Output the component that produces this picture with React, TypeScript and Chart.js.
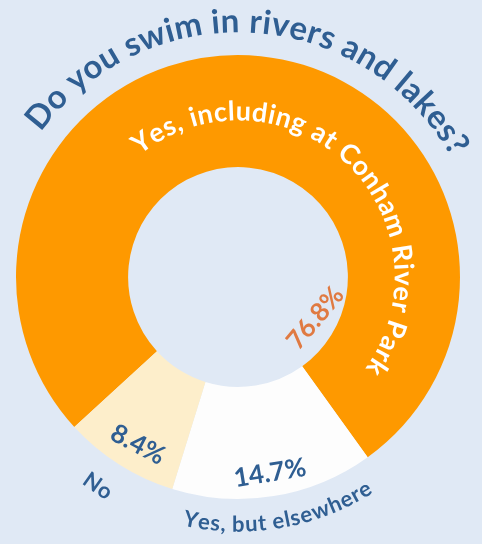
import React, { useEffect, useRef } from "react";
import { Chart, registerables } from "chart.js";

Chart.register(...registerables);

const categories = ["Yes, including at Conham River Park", "Yes, but elsewhere", "No"];
const values = [76.8, 14.7, 8.4];
const percentLabels = ["76.8%", "14.7%", "8.4%"];
const titleText = "Do you swim in rivers and lakes?";
const segmentColors = ["#fe9900", "#fdfdfd", "#fdeecb"];

const BLUE = "#2f5e92";
const FONT = "Lato, 'Open Sans', sans-serif";

function arcTextTop(ctx: CanvasRenderingContext2D, text: string, cx: number, cy: number, r: number, center: number, spacing: number) {
  const widths = Array.from(text).map((ch) => ctx.measureText(ch).width + spacing);
  const total = widths.reduce((a, b) => a + b, 0) - spacing;
  let off = 0;
  const a0 = center - total / r / 2;
  Array.from(text).forEach((ch, i) => {
    const w = widths[i] - spacing;
    const a = a0 + (off + w / 2) / r;
    ctx.save();
    ctx.translate(cx + r * Math.cos(a), cy + r * Math.sin(a));
    ctx.rotate(a + Math.PI / 2);
    ctx.fillText(ch, 0, 0);
    ctx.restore();
    off += widths[i];
  });
}

function arcTextBottom(ctx: CanvasRenderingContext2D, text: string, cx: number, cy: number, r: number, center: number, spacing: number) {
  const widths = Array.from(text).map((ch) => ctx.measureText(ch).width + spacing);
  const total = widths.reduce((a, b) => a + b, 0) - spacing;
  let off = 0;
  const a0 = center + total / r / 2;
  Array.from(text).forEach((ch, i) => {
    const w = widths[i] - spacing;
    const a = a0 - (off + w / 2) / r;
    ctx.save();
    ctx.translate(cx + r * Math.cos(a), cy + r * Math.sin(a));
    ctx.rotate(a - Math.PI / 2);
    ctx.fillText(ch, 0, 0);
    ctx.restore();
    off += widths[i];
  });
}

function straightText(ctx: CanvasRenderingContext2D, text: string, cx: number, cy: number, r: number, ang: number, rot: number) {
  ctx.save();
  ctx.translate(cx + r * Math.cos(ang), cy + r * Math.sin(ang));
  ctx.rotate(rot);
  ctx.fillText(text, 0, 0);
  ctx.restore();
}

const deg = (d: number) => (d * Math.PI) / 180;

const labelsPlugin = {
  id: "curvedLabels",
  afterDraw(chart: any) {
    const meta = chart.getDatasetMeta(0);
    const arcs = meta.data;
    if (!arcs.length) return;
    const { x: cx, y: cy, outerRadius: R } = arcs[0];
    const ctx: CanvasRenderingContext2D = chart.ctx;
    const mid = (i: number) => (arcs[i].startAngle + arcs[i].endAngle) / 2;
    ctx.save();
    ctx.textAlign = "center";
    ctx.textBaseline = "middle";

    // Title
    ctx.fillStyle = BLUE;
    ctx.font = `bold 33px ${FONT}`;
    arcTextTop(ctx, titleText, cx, cy, R * 1.15, deg(-86.5), 1);

    // Big category label inside orange ring
    ctx.fillStyle = "#ffffff";
    ctx.font = `bold 27px ${FONT}`;
    arcTextTop(ctx, categories[0], cx, cy, R * 0.745, deg(-46.5), 1.2);

    // Outer labels (bottom)
    ctx.fillStyle = BLUE;
    ctx.font = `bold 22px ${FONT}`;
    arcTextBottom(ctx, categories[1], cx, cy, R * 1.115, mid(1) - deg(0.5), 0.5);
    ctx.font = `bold 22px ${FONT}`;
    arcTextBottom(ctx, categories[2], cx, cy, R * 1.135, mid(2) + deg(1.5), 0.5);

    // Percentages
    ctx.font = `bold 26px ${FONT}`;
    ctx.fillStyle = BLUE;
    const a1 = mid(1);
    straightText(ctx, percentLabels[1], cx, cy, R * 0.895, a1, a1 - Math.PI / 2);
    const a2 = mid(2) - deg(1.5);
    straightText(ctx, percentLabels[2], cx, cy, R * 0.88, a2, a2 - Math.PI / 2 - deg(3));
    ctx.fillStyle = "#e07a42";
    straightText(ctx, percentLabels[0], cx, cy, R * 0.395, deg(27.9), deg(-50));
    ctx.restore();
  },
};

export default function App() {
  const ref = useRef<HTMLCanvasElement>(null);
  useEffect(() => {
    if (!ref.current) return;
    const chart = new Chart(ref.current, {
      type: "doughnut",
      data: {
        labels: categories,
        datasets: [
          {
            data: values,
            backgroundColor: segmentColors,
            borderWidth: 0,
          },
        ],
      },
      options: {
        animation: false,
        responsive: false,
        maintainAspectRatio: false,
        rotation: 227.5,
        cutout: "49.5%",
        layout: { padding: { left: 16, right: 22, top: 55, bottom: 45 } },
        plugins: {
          legend: { display: false },
          tooltip: { enabled: false },
          title: { display: false },
        },
      },
      plugins: [labelsPlugin],
    });
    return () => chart.destroy();
  }, []);
  return (
    <div style={{ position: "fixed", left: 0, top: 0, width: 482, height: 544, background: "#e0e9f5" }}>
      <canvas ref={ref} width={482} height={544} style={{ display: "block", width: 482, height: 544 }} />
    </div>
  );
}
